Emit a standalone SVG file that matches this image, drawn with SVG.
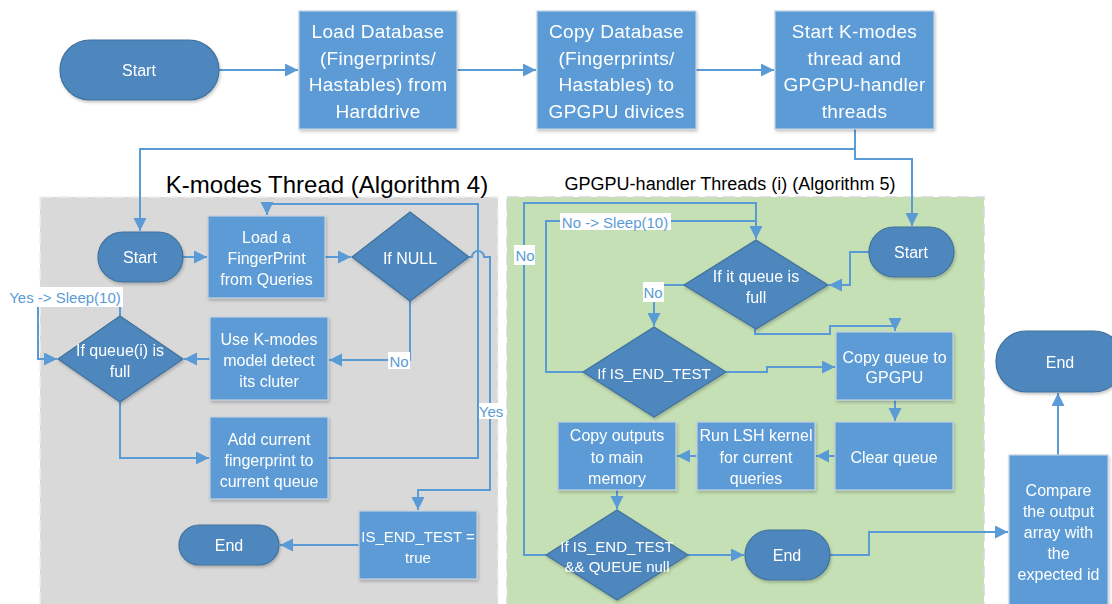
<svg xmlns="http://www.w3.org/2000/svg" width="1112" height="604" viewBox="0 0 1112 604">
<style>
text{font-family:"Liberation Sans",Arial,sans-serif;text-anchor:middle;dominant-baseline:central}
.n{fill:#ffffff;font-size:16px}
.big{font-size:19px;letter-spacing:0.3px}
.box{fill:#5b9bd5;stroke:#c3d0de;stroke-width:1.2}
.term{fill:#4d87bd;stroke:#41719c;stroke-width:1.2}
.dec{fill:#4d87bd;stroke:#41719c;stroke-width:1.2}
.c{fill:none;stroke:#5b9bd5;stroke-width:2}
.a{marker-end:url(#ah)}
.lblbg{fill:#ffffff}
.lbl{fill:#5b9bd5;font-size:15px}
.title{fill:#000000}
</style>
<defs>
<marker id="ah" markerWidth="14" markerHeight="14" refX="13" refY="6.5" orient="auto" markerUnits="userSpaceOnUse">
<path d="M0,0 L13,6.5 L0,13 z" fill="#5b9bd5"/>
</marker>
<filter id="sh" x="-10%" y="-10%" width="125%" height="130%">
<feDropShadow dx="1" dy="2" stdDeviation="1.5" flood-color="#000" flood-opacity="0.22"/>
</filter>
</defs>

<g id="panels">
<rect id="kmodes-panel" x="40" y="197" width="458" height="430" fill="#d9d9d9" stroke="#efefef" stroke-width="1.5" stroke-dasharray="12 6"/>
<rect id="gpgpu-panel" x="507" y="197" width="477" height="430" fill="#c5e0b4" stroke="#d6d6d6" stroke-width="1.5" stroke-dasharray="12 6"/>
<text class="title" x="327" y="184" style="font-size:24px">K-modes Thread (Algorithm 4)</text>
<text class="title" x="730" y="184" style="font-size:18px">GPGPU-handler Threads (i) (Algorithm 5)</text>
</g>

<g id="connectors">
<path class="c a" d="M219,70 H298"/>
<path class="c a" d="M457,70 H536"/>
<path class="c a" d="M696,70 H774"/>
<path class="c a" d="M855,129 V149 H140 V231"/>
<path class="c a" d="M855,149 V159 H912 V226"/>
<path class="c a" d="M183,257 H207"/>
<path class="c a" d="M325,257 H351"/>
<path class="c a" d="M410,301 V360 H329"/>
<path class="c a" d="M210,359 H184"/>
<path class="c a" d="M120,316 V297 H38 V359 H57"/>
<path class="c a" d="M120,402 V458 H209"/>
<path class="c a" d="M328,458 H478 V204 H267 V215"/>
<path class="c a" d="M469,257 H472 A6,6 0 0 1 484,257 H490 V490 H418 V510"/>
<path class="c a" d="M359,545 H280"/>
<path class="c a" d="M869,252 H850 V285 H829"/>
<path class="c a" d="M755,329 V334 H830 V326 H895 V331"/>
<path class="c a" d="M684,285 H654 V326"/>
<path class="c a" d="M726,372 H767 V367 H835"/>
<path class="c a" d="M583,372 H546 V221 H756 V239"/>
<path class="c" d="M546,555 H524 V203 H756 V221"/>
<path class="c a" d="M895,400 V421"/>
<path class="c a" d="M835,456 H816"/>
<path class="c a" d="M697,456 H677"/>
<path class="c a" d="M617,490 V509"/>
<path class="c a" d="M688,555 H744"/>
<path class="c a" d="M830,555 H869 V532 H1008"/>
<path class="c a" d="M1058,455 V393"/>
</g>

<g id="labels">
<rect class="lblbg" x="7" y="287" width="116" height="20"/>
<text class="lbl" x="65" y="297">Yes -&gt; Sleep(10)</text>
<rect class="lblbg" x="388" y="352" width="22" height="17"/>
<text class="lbl" x="399" y="361">No</text>
<rect class="lblbg" x="479" y="403" width="24" height="16"/>
<text class="lbl" x="491" y="411">Yes</text>
<rect class="lblbg" x="560" y="213" width="111" height="17"/>
<text class="lbl" x="615" y="222">No -&gt; Sleep(10)</text>
<rect class="lblbg" x="514" y="245" width="21" height="20"/>
<text class="lbl" x="525" y="255">No</text>
<rect class="lblbg" x="643" y="282" width="21" height="20"/>
<text class="lbl" x="653" y="292">No</text>
</g>

<g id="start-main" filter="url(#sh)">
<rect class="term" x="60" y="40" width="159" height="60" rx="30"/>
<text class="n" x="139" y="70">Start</text>
</g>
<g id="load-db" filter="url(#sh)">
<rect class="box" x="299" y="11" width="158" height="118"/>
<text class="n big" x="378"><tspan x="378" y="31">Load Database</tspan><tspan x="378" y="57.5">(Fingerprints/</tspan><tspan x="378" y="84">Hastables) from</tspan><tspan x="378" y="110.5">Harddrive</tspan></text>
</g>
<g id="copy-db" filter="url(#sh)">
<rect class="box" x="537" y="11" width="159" height="118"/>
<text class="n big" x="616.5"><tspan x="616.5" y="31">Copy Database</tspan><tspan x="616.5" y="57.5">(Fingerprints/</tspan><tspan x="616.5" y="84">Hastables) to</tspan><tspan x="616.5" y="110.5">GPGPU divices</tspan></text>
</g>
<g id="start-threads" filter="url(#sh)">
<rect class="box" x="775" y="11" width="159" height="118"/>
<text class="n big" x="854.5"><tspan x="854.5" y="31">Start K-modes</tspan><tspan x="854.5" y="57.5">thread and</tspan><tspan x="854.5" y="84">GPGPU-handler</tspan><tspan x="854.5" y="110.5">threads</tspan></text>
</g>

<g id="k-start" filter="url(#sh)">
<rect class="term" x="98" y="232" width="85" height="50" rx="25"/>
<text class="n" x="140" y="257">Start</text>
</g>
<g id="k-load" filter="url(#sh)">
<rect class="box" x="208" y="216" width="117" height="82"/>
<text class="n"><tspan x="266.5" y="237">Load a</tspan><tspan x="266.5" y="258">FingerPrint</tspan><tspan x="266.5" y="279">from Queries</tspan></text>
</g>
<g id="k-ifnull" filter="url(#sh)">
<polygon class="dec" points="410,212 469,257 410,301 352,257"/>
<text class="n" x="410" y="258">If NULL</text>
</g>
<g id="k-use" filter="url(#sh)">
<rect class="box" x="210" y="317" width="118" height="83"/>
<text class="n"><tspan x="269" y="339">Use K-modes</tspan><tspan x="269" y="360">model detect</tspan><tspan x="269" y="381">its cluter</tspan></text>
</g>
<g id="k-ifqueue" filter="url(#sh)">
<polygon class="dec" points="120,316 183,359 120,402 58,359"/>
<text class="n"><tspan x="120" y="350">If queue(i) is</tspan><tspan x="120" y="371">full</tspan></text>
</g>
<g id="k-add" filter="url(#sh)">
<rect class="box" x="210" y="417" width="118" height="82"/>
<text class="n"><tspan x="269" y="439">Add current</tspan><tspan x="269" y="460">fingerprint to</tspan><tspan x="269" y="481">current queue</tspan></text>
</g>
<g id="k-isend" filter="url(#sh)">
<rect class="box" x="359" y="511" width="118" height="68"/>
<text class="n" style="font-size:15px"><tspan x="418" y="536">IS_END_TEST =</tspan><tspan x="418" y="557">true</tspan></text>
</g>
<g id="k-end" filter="url(#sh)">
<rect class="term" x="179" y="525" width="100" height="40" rx="20"/>
<text class="n" x="229" y="545">End</text>
</g>

<g id="g-start" filter="url(#sh)">
<rect class="term" x="869" y="227" width="85" height="50" rx="25"/>
<text class="n" x="911" y="252">Start</text>
</g>
<g id="g-iffull" filter="url(#sh)">
<polygon class="dec" points="756,240 828,285 756,329 684,285"/>
<text class="n"><tspan x="756" y="276">If it queue is</tspan><tspan x="756" y="297">full</tspan></text>
</g>
<g id="g-ifend" filter="url(#sh)">
<polygon class="dec" points="654,327 726,372 654,417 583,372"/>
<text class="n" x="654" y="373" style="font-size:15px">If IS_END_TEST</text>
</g>
<g id="g-copyq" filter="url(#sh)">
<rect class="box" x="836" y="332" width="117" height="68"/>
<text class="n"><tspan x="894.5" y="357">Copy queue to</tspan><tspan x="894.5" y="377">GPGPU</tspan></text>
</g>
<g id="g-clear" filter="url(#sh)">
<rect class="box" x="835" y="422" width="118" height="68"/>
<text class="n" x="894" y="457">Clear queue</text>
</g>
<g id="g-run" filter="url(#sh)">
<rect class="box" x="697" y="422" width="118" height="68"/>
<text class="n"><tspan x="756" y="435">Run LSH kernel</tspan><tspan x="756" y="457">for current</tspan><tspan x="756" y="478">queries</tspan></text>
</g>
<g id="g-copyout" filter="url(#sh)">
<rect class="box" x="558" y="422" width="118" height="68"/>
<text class="n"><tspan x="617" y="435">Copy outputs</tspan><tspan x="617" y="457">to main</tspan><tspan x="617" y="478">memory</tspan></text>
</g>
<g id="g-ifendnull" filter="url(#sh)">
<polygon class="dec" points="617,510 688,555 617,600 546,555"/>
<text class="n" style="font-size:15px"><tspan x="617" y="546">If IS_END_TEST</tspan><tspan x="617" y="566">&amp;&amp; QUEUE null</tspan></text>
</g>
<g id="g-end" filter="url(#sh)">
<rect class="term" x="745" y="530" width="85" height="50" rx="25"/>
<text class="n" x="787" y="555">End</text>
</g>

<g id="compare" filter="url(#sh)">
<rect class="box" x="1009" y="455" width="99" height="170"/>
<text class="n"><tspan x="1058.5" y="490">Compare</tspan><tspan x="1058.5" y="511">the output</tspan><tspan x="1058.5" y="532">array with</tspan><tspan x="1058.5" y="553">the</tspan><tspan x="1058.5" y="574">expected id</tspan></text>
</g>
<g id="final-end" filter="url(#sh)">
<rect class="term" x="996" y="331" width="128" height="61" rx="30.5"/>
<text class="n" x="1060" y="362">End</text>
</g>
</svg>
